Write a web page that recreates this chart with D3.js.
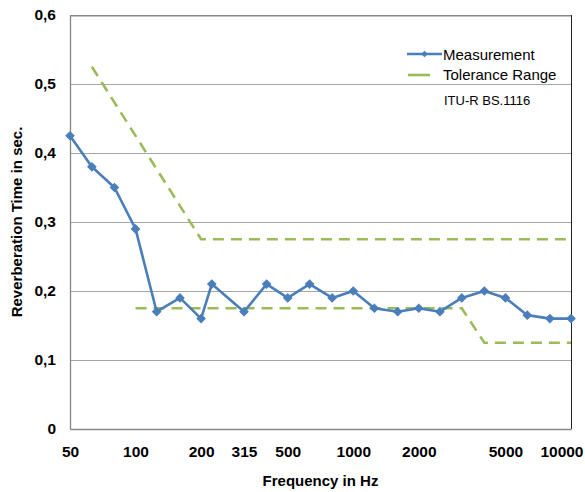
<!DOCTYPE html>
<html>
<head>
<meta charset="utf-8">
<script src="https://cdn.jsdelivr.net/npm/d3@7"></script>
<style>
  body { margin: 0; background: #fff; }
  svg { display: block; }
  text { font-family: "Liberation Sans", Arial, sans-serif; }
</style>
</head>
<body>
<div id="chart"></div>
<script>
// Third-octave bands (the 250 Hz point sits left of its band in the original)
const frequencies = [50, 63, 80, 100, 125, 160, 200, 224, 315, 400, 500, 630, 800, 1000, 1250, 1600, 2000, 2500, 3150, 4000, 5000, 6300, 8000, 10000];
const measurement = [0.425, 0.38, 0.35, 0.29, 0.17, 0.19, 0.16, 0.21, 0.17, 0.21, 0.19, 0.21, 0.19, 0.20, 0.175, 0.17, 0.175, 0.17, 0.19, 0.20, 0.19, 0.165, 0.16, 0.16];

// ITU-R BS.1116 tolerance limits
const upperFreq = [63, 200, 10000];
const upperLimit = [0.525, 0.275, 0.275];
const lowerFreq = [100, 3150, 4000, 10000];
const lowerLimit = [0.175, 0.175, 0.125, 0.125];

const xTicks = [50, 100, 200, 315, 500, 1000, 2000, 5000, 10000];
const yTicks = [0, 0.1, 0.2, 0.3, 0.4, 0.5, 0.6];

const W = 585, H = 492;
const margin = { top: 15, right: 14, bottom: 63, left: 70 },
    width = W - margin.left - margin.right,
    height = H - margin.top - margin.bottom;

const root = d3.select("#chart")
    .append("svg")
    .attr("width", W)
    .attr("height", H);

const svg = root.append("g")
    .attr("transform", `translate(${margin.left},${margin.top})`);

const x = d3.scaleLog()
    .domain([50, 10000])
    .range([0, width]);

const y = d3.scaleLinear()
    .domain([0, 0.6])
    .range([height, 0]);

// gridlines
svg.append("g")
    .selectAll("line")
    .data(yTicks.slice(1, -1))
    .enter()
    .append("line")
    .attr("x1", 0)
    .attr("x2", width)
    .attr("y1", d => Math.round(y(d)) + 0.5)
    .attr("y2", d => Math.round(y(d)) + 0.5)
    .style("stroke", "#a6a6a6")
    .style("stroke-width", 1);

// top of the frame, drawn as a thin filled bar
svg.append("rect")
    .attr("x", 0)
    .attr("y", y(0.6))
    .attr("width", width)
    .attr("height", 1.5)
    .style("fill", "#868686");

// right side of the frame is dark
svg.append("line")
    .attr("x1", width + 0.5).attr("x2", width + 0.5)
    .attr("y1", 0).attr("y2", height)
    .style("stroke", "#222")
    .style("stroke-width", 1);

// axes
const yAxis = svg.append("g")
    .call(d3.axisLeft(y).tickValues(yTicks).tickSize(0).tickPadding(14)
        .tickFormat(d => d3.format(".1~f")(d).replace(".", ",")));

const xAxis = svg.append("g")
    .attr("transform", `translate(0,${height})`)
    .call(d3.axisBottom(x).tickValues(xTicks).tickSize(0).tickPadding(17)
        .tickFormat(d3.format("d")));

[yAxis, xAxis].forEach(a => {
    a.select(".domain").style("stroke", "#868686").style("stroke-width", 1.3);
    a.selectAll("text")
        .style("font-size", "15.5px")
        .style("font-weight", "bold")
        .style("fill", "#000");
});

// last label is pushed inside the page
xAxis.selectAll(".tick text")
    .filter(d => d === 10000)
    .attr("text-anchor", "end")
    .attr("x", 12);

// axis titles
svg.append("text")
    .attr("x", width / 2)
    .attr("y", height + 57)
    .style("text-anchor", "middle")
    .style("font-size", "15px")
    .style("font-weight", "bold")
    .text("Frequency in Hz");

svg.append("text")
    .attr("transform", "rotate(-90)")
    .attr("x", -height / 2)
    .attr("y", -48)
    .style("text-anchor", "middle")
    .style("font-size", "15px")
    .style("font-weight", "bold")
    .text("Reverberation Time in sec.");

// tolerance range
const green = "#9bbb59", blue = "#4a7ebb";

const tolLine = d3.line()
    .x(d => x(d[0]))
    .y(d => y(d[1]));

[[upperFreq, upperLimit], [lowerFreq, lowerLimit]].forEach(([f, v]) => {
    svg.append("path")
        .datum(f.map((d, i) => [d, v[i]]))
        .attr("d", tolLine)
        .style("fill", "none")
        .style("stroke", green)
        .style("stroke-width", 2.6)
        .style("stroke-dasharray", "11,7");
});

// measurement
const points = frequencies.map((d, i) => [d, measurement[i]]);

svg.append("path")
    .datum(points)
    .attr("d", tolLine)
    .style("fill", "none")
    .style("stroke", blue)
    .style("stroke-width", 2.6)
    .style("stroke-linejoin", "round");

// square turned 45 degrees, like Excel's diamond marker
const diamond = d3.symbol().type(d3.symbolSquare).size(34);

svg.selectAll(".marker")
    .data(points)
    .enter()
    .append("path")
    .attr("class", "marker")
    .attr("transform", d => `translate(${x(d[0])},${y(d[1])}) rotate(45)`)
    .attr("d", diamond)
    .style("fill", blue)
    .style("stroke", blue)
    .style("stroke-width", 1);

// legend
const legend = svg.append("g")
    .attr("transform", `translate(${337}, ${39})`);

legend.append("line")
    .attr("x1", 0).attr("x2", 35)
    .attr("y1", 0).attr("y2", 0)
    .style("stroke", blue)
    .style("stroke-width", 2.6);

legend.append("path")
    .attr("transform", "translate(17.5,0) rotate(45)")
    .attr("d", d3.symbol().type(d3.symbolSquare).size(22))
    .style("fill", blue);

legend.append("line")
    .attr("x1", 1).attr("x2", 23)
    .attr("y1", 21).attr("y2", 21)
    .style("stroke", green)
    .style("stroke-width", 2.6);

legend.selectAll(".lbl")
    .data(["Measurement", "Tolerance Range"])
    .enter()
    .append("text")
    .attr("x", 36)
    .attr("y", (d, i) => 6 + i * 19.5)
    .style("font-size", "15px")
    .style("fill", "#000")
    .text(d => d);

legend.append("text")
    .attr("x", 37)
    .attr("y", 51)
    .style("font-size", "13px")
    .style("fill", "#000")
    .text("ITU-R BS.1116");
</script>
</body>
</html>
